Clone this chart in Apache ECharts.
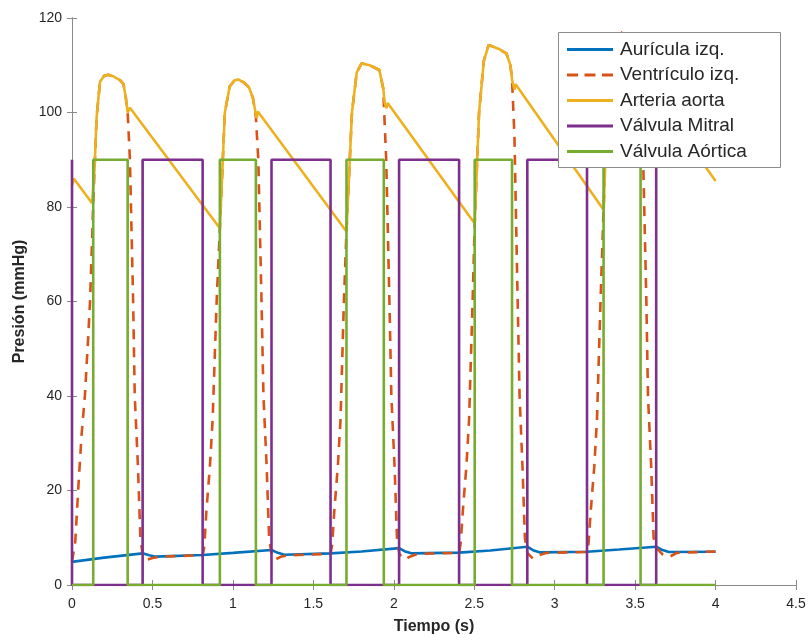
<!DOCTYPE html>
<html>
<head>
<meta charset="utf-8">
<script src="https://cdn.jsdelivr.net/npm/echarts@6/dist/echarts.min.js"></script>
<style>
html,body{margin:0;padding:0;background:#fff;}
#c{width:811px;height:643px;}
</style>
</head>
<body>
<div id="c"></div>
<script>
// ---- Data ----
const seriesNames = ['Aurícula izq.', 'Ventrículo izq.', 'Arteria aorta', 'Válvula Mitral', 'Válvula Aórtica'];
const xTicks = [0, 0.5, 1, 1.5, 2, 2.5, 3, 3.5, 4, 4.5];
const yTicks = [0, 20, 40, 60, 80, 100, 120];

const atriumT = [0, 0.2, 0.439, 0.48, 0.52, 0.812, 1.0, 1.24, 1.28, 1.32, 1.607, 1.8, 2.033, 2.07, 2.11, 2.406, 2.6, 2.83, 2.87, 2.91, 3.201, 3.4, 3.631, 3.67, 3.71, 4.0];
const atriumP = [4.9, 5.8, 6.7, 6.3, 6.0, 6.35, 6.8, 7.4, 6.8, 6.4, 6.7, 7.1, 7.8, 7.1, 6.7, 6.85, 7.3, 8.1, 7.3, 6.9, 7.05, 7.5, 8.1, 7.4, 7.0, 7.05];

const ventT = [0, 0.02, 0.04, 0.06, 0.08, 0.1, 0.112, 0.126, 0.132,
  0.14, 0.153, 0.174, 0.2, 0.226, 0.26, 0.3, 0.32, 0.335, 0.346,
  0.36, 0.38, 0.39, 0.41, 0.425, 0.44, 0.46, 0.5, 0.55, 0.812,
  0.822, 0.836, 0.857, 0.874, 0.899, 0.919,
  0.95, 0.98, 1.01, 1.033, 1.07, 1.1, 1.125, 1.143,
  1.158, 1.178, 1.19, 1.21, 1.225, 1.24, 1.265, 1.3, 1.35, 1.607,
  1.617, 1.631, 1.652, 1.669, 1.69, 1.706,
  1.74, 1.77, 1.8, 1.85, 1.91, 1.935, 1.938,
  1.953, 1.973, 1.985, 2.005, 2.02, 2.035, 2.07, 2.1, 2.15, 2.406,
  2.416, 2.43, 2.451, 2.468, 2.49, 2.503,
  2.53, 2.56, 2.59, 2.65, 2.7, 2.725, 2.735,
  2.75, 2.77, 2.782, 2.8, 2.815, 2.83, 2.865, 2.9, 2.95, 3.201,
  3.211, 3.225, 3.246, 3.263, 3.285, 3.304,
  3.33, 3.36, 3.39, 3.45, 3.5, 3.534,
  3.55, 3.57, 3.58, 3.6, 3.615, 3.63, 3.67, 3.71, 3.76, 4.0];
const ventP = [5.0, 9, 21, 32, 40, 52, 60, 74, 81,
  88, 99, 106.5, 107.8, 108, 107.6, 106.8, 106, 103, 100,
  90, 60, 40, 25, 10, 6.2, 5.3, 5.7, 6.0, 6.3,
  8, 16, 25, 35, 60, 75.5,
  100, 105.5, 106.8, 107, 106.3, 105.3, 103, 99,
  90, 60, 40, 25, 10, 6.5, 5.4, 6.0, 6.3, 6.6,
  8.5, 16, 25, 35, 60, 74.8,
  100, 108.5, 110.4, 110, 109, 105, 102,
  90, 60, 40, 25, 10, 6.5, 5.4, 6.0, 6.6, 6.8,
  9, 16, 25, 35, 60, 76.5,
  100, 111, 114.3, 113.5, 112.5, 110, 107,
  95, 60, 40, 25, 10, 6.8, 5.6, 6.3, 6.8, 7.0,
  9, 16, 25, 35, 60, 79.4,
  104, 114, 117.6, 116, 113, 108,
  90, 60, 40, 25, 10, 8, 6.5, 5.9, 6.8, 7.1];

const aortaT = [0, 0.012, 0.125,
  0.14, 0.153, 0.174, 0.2, 0.226, 0.26, 0.3, 0.32, 0.335, 0.346, 0.352, 0.36, 0.37, 0.919,
  0.95, 0.98, 1.01, 1.033, 1.07, 1.1, 1.125, 1.143, 1.148, 1.155, 1.165, 1.706,
  1.74, 1.77, 1.8, 1.85, 1.91, 1.935, 1.944, 1.955, 1.962, 1.972, 2.503,
  2.53, 2.56, 2.59, 2.65, 2.7, 2.725, 2.735, 2.75, 2.757, 2.767, 3.304,
  3.33, 3.36, 3.39, 3.45, 3.5, 3.534, 3.545, 3.552, 3.56, 4.0];
const aortaP = [84.5, 86, 80.8,
  88, 99, 106.5, 107.8, 108, 107.6, 106.8, 106, 103, 100, 99.6, 101, 100.6, 75.5,
  100, 105.5, 106.8, 107, 106.3, 105.3, 103, 99.5, 98.8, 100.2, 99.8, 74.8,
  100, 108.5, 110.4, 110, 109, 105, 102, 100.9, 102, 101.6, 76.5,
  100, 111, 114.3, 113.5, 112.5, 110, 107, 104.8, 106, 105.5, 79.4,
  103, 113, 116.3, 115, 112, 108, 106, 107, 106.6, 85.5];

const mitralT = [0, 0, 0.439, 0.439, 0.812, 0.812, 1.24, 1.24, 1.607, 1.607, 2.033, 2.033, 2.406, 2.406, 2.83, 2.83, 3.201, 3.201, 3.631, 3.631, 4.0];
const mitralP = [90, 0, 0, 90, 90, 0, 0, 90, 90, 0, 0, 90, 90, 0, 0, 90, 90, 0, 0, 90, 90];

const aorticT = [0, 0.132, 0.132, 0.346, 0.346, 0.919, 0.919, 1.143, 1.143, 1.706, 1.706, 1.938, 1.938, 2.503, 2.503, 2.735, 2.735, 3.304, 3.304, 3.534, 3.534, 4.0];
const aorticP = [0, 0, 90, 90, 0, 0, 90, 90, 0, 0, 90, 90, 0, 0, 90, 90, 0, 0, 90, 90, 0, 0];

const colors = ['#0072BD', '#D95319', '#EDB120', '#7E2F8E', '#77AC30'];

// ---- Build chart ----
const pairs = (T, P) => T.map((t, i) => [t, P[i]]);
const allData = [pairs(atriumT, atriumP), pairs(ventT, ventP), pairs(aortaT, aortaP), pairs(mitralT, mitralP), pairs(aorticT, aorticP)];

const chart = echarts.init(document.getElementById('c'), null, {renderer: 'canvas'});
const FONT = '"Liberation Sans", Arial, Helvetica, sans-serif';
const axisGray = '#8a8a8a';
const labelColor = '#262626';

const solidIcon = 'path://M0,0H46V3H0Z';
const dashIcon = 'path://M0,0H11V3H0Z M17.5,0H28.5V3H17.5Z M35,0H46V3H35Z';

const baseAxis = {
  axisLine: {show: true, lineStyle: {color: axisGray, width: 1}},
  axisTick: {show: true, inside: true, length: 5, lineStyle: {color: axisGray}},
  splitLine: {show: false}
};

const option = {
  animation: false,
  backgroundColor: '#ffffff',
  color: colors,
  grid: {left: 72, right: 15, top: 18, bottom: 58, containLabel: false},
  graphic: [{
    type: 'rect',
    left: 558, top: 32, z: 20,
    shape: {width: 222, height: 135},
    style: {fill: '#ffffff', stroke: '#8c8c8c', lineWidth: 1}
  }],
  legend: {
    orient: 'vertical',
    left: 558,
    top: 32,
    z: 30,
    padding: [8, 8, 6, 9],
    itemGap: 6.5,
    itemWidth: 46,
    itemHeight: 3,
    backgroundColor: 'transparent',
    borderWidth: 0,
    textStyle: {fontFamily: FONT, fontSize: 19, color: labelColor, padding: [0, 0, 0, 2]},
    data: seriesNames.map((n, i) => ({name: n, icon: i === 1 ? dashIcon : solidIcon}))
  },
  xAxis: [
    Object.assign({}, baseAxis, {
      type: 'value', min: 0, max: 4.5, interval: 0.5, position: 'bottom',
      name: 'Tiempo (s)', nameLocation: 'middle', nameGap: 34,
      nameTextStyle: {fontFamily: FONT, fontSize: 16, fontWeight: 'bold', color: labelColor},
      axisLabel: {fontFamily: FONT, fontSize: 14, color: labelColor, margin: 12,
        formatter: v => xTicks.includes(Math.round(v * 10) / 10) ? String(Math.round(v * 10) / 10) : ''}
    }),
    Object.assign({}, baseAxis, {
      type: 'value', min: 0, max: 4.5, interval: 0.5, position: 'top',
      axisLabel: {show: false}
    })
  ],
  yAxis: [
    Object.assign({}, baseAxis, {
      type: 'value', min: 0, max: 120, interval: 20, position: 'left',
      name: 'Presión (mmHg)', nameLocation: 'middle', nameGap: 35,
      nameTextStyle: {fontFamily: FONT, fontSize: 16, fontWeight: 'bold', color: labelColor},
      axisLabel: {fontFamily: FONT, fontSize: 14, color: labelColor, margin: 10,
        formatter: v => yTicks.includes(v) ? String(v) : ''}
    }),
    Object.assign({}, baseAxis, {
      type: 'value', min: 0, max: 120, interval: 20, position: 'right',
      axisLabel: {show: false}
    })
  ],
  series: seriesNames.map((name, i) => ({
    name: name,
    type: 'line',
    data: allData[i],
    symbol: 'none',
    showSymbol: false,
    smooth: false,
    clip: true,
    lineStyle: {
      color: colors[i],
      width: 2.6,
      type: i === 1 ? [10, 8] : 'solid',
      cap: 'butt'
    },
    itemStyle: {color: colors[i]},
    emphasis: {disabled: true}
  }))
};
chart.setOption(option);
</script>
</body>
</html>
